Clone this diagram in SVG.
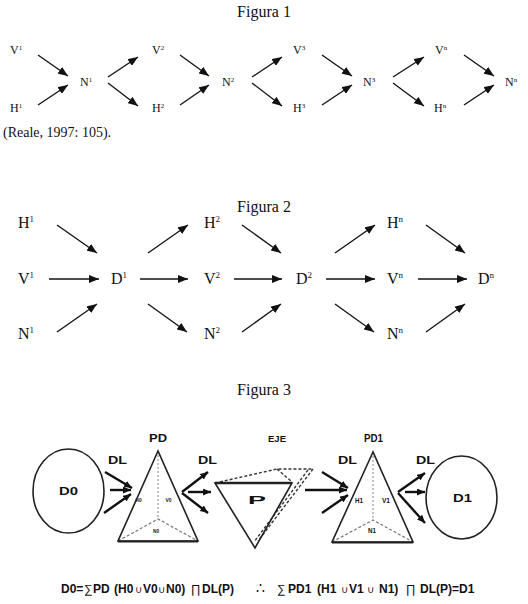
<svg xmlns="http://www.w3.org/2000/svg" width="528" height="604" viewBox="0 0 528 604">
<style>
.ser{font-family:"Liberation Serif","Times New Roman",serif;fill:#111}
.t{font-size:16px}
.l1{font-size:12px}
.l2{font-size:16px}
.sans{font-family:"Liberation Sans",Arial,sans-serif;font-weight:bold;fill:#111}
.a{stroke:#111;stroke-width:1.3;fill:none}
.a3{stroke:#111;stroke-width:2.4;fill:none}
.sh{stroke:#222;stroke-width:1.6;fill:none}
.dash{stroke:#777;stroke-width:1.2;fill:none;stroke-dasharray:3 2}
.dot{stroke:#999;stroke-width:1.2;fill:none;stroke-dasharray:2 2}
.dk{stroke:#333;stroke-width:1.4;fill:none;stroke-dasharray:3 2}
.op{font-weight:normal}
.cu{font-weight:normal;font-size:10px}
</style>
<defs>
<marker id="ah" viewBox="0 0 10 8" refX="10" refY="4" markerWidth="10" markerHeight="8" markerUnits="userSpaceOnUse" orient="auto"><path d="M0,0 L10,4 L0,8 z" fill="#111"/></marker>
<marker id="ah3" viewBox="0 0 8 7" refX="8" refY="3.5" markerWidth="8" markerHeight="7" markerUnits="userSpaceOnUse" orient="auto"><path d="M0,0 L8,3.5 L0,7 z" fill="#111"/></marker>
</defs>

<!-- Figura 1 -->
<text class="ser t" x="264" y="17" text-anchor="middle">Figura 1</text>
<g id="fig1-nodes" class="ser l1">
<g id="f1-V1"><text x="10" y="54">V<tspan font-size="7" dy="-4">1</tspan></text></g>
<g id="f1-H1"><text x="10" y="112">H<tspan font-size="7" dy="-4">1</tspan></text></g>
<g id="f1-N1"><text x="80" y="86">N<tspan font-size="7" dy="-4">1</tspan></text></g>
<g id="f1-V2"><text x="152" y="54">V<tspan font-size="7" dy="-4">2</tspan></text></g>
<g id="f1-H2"><text x="152" y="112">H<tspan font-size="7" dy="-4">2</tspan></text></g>
<g id="f1-N2"><text x="222" y="86">N<tspan font-size="7" dy="-4">2</tspan></text></g>
<g id="f1-V3"><text x="293" y="54">V<tspan font-size="7" dy="-4">3</tspan></text></g>
<g id="f1-H3"><text x="293" y="112">H<tspan font-size="7" dy="-4">3</tspan></text></g>
<g id="f1-N3"><text x="363" y="86">N<tspan font-size="7" dy="-4">3</tspan></text></g>
<g id="f1-Vn"><text x="435" y="54">V<tspan font-size="7" dy="-4">n</tspan></text></g>
<g id="f1-Hn"><text x="434" y="112">H<tspan font-size="7" dy="-4">n</tspan></text></g>
<g id="f1-Nn"><text x="505" y="86">N<tspan font-size="7" dy="-4">n</tspan></text></g>
</g>
<g id="fig1-connectors" class="a">
<line x1="38" y1="55" x2="68" y2="76" marker-end="url(#ah)"/>
<line x1="38" y1="105" x2="68" y2="85" marker-end="url(#ah)"/>
<line x1="108" y1="77" x2="138" y2="57" marker-end="url(#ah)"/>
<line x1="108" y1="83" x2="138" y2="106" marker-end="url(#ah)"/>
<line x1="180" y1="55" x2="209" y2="76" marker-end="url(#ah)"/>
<line x1="180" y1="105" x2="209" y2="85" marker-end="url(#ah)"/>
<line x1="252" y1="77" x2="282" y2="57" marker-end="url(#ah)"/>
<line x1="252" y1="83" x2="282" y2="106" marker-end="url(#ah)"/>
<line x1="322" y1="55" x2="352" y2="76" marker-end="url(#ah)"/>
<line x1="322" y1="105" x2="352" y2="85" marker-end="url(#ah)"/>
<line x1="393" y1="77" x2="424" y2="57" marker-end="url(#ah)"/>
<line x1="393" y1="83" x2="424" y2="106" marker-end="url(#ah)"/>
<line x1="464" y1="55" x2="494" y2="76" marker-end="url(#ah)"/>
<line x1="464" y1="105" x2="494" y2="85" marker-end="url(#ah)"/>
</g>
<text class="ser" font-size="14" x="3" y="137">(Reale, 1997: 105).</text>

<!-- Figura 2 -->
<text class="ser t" x="264" y="212" text-anchor="middle">Figura 2</text>
<g id="fig2-nodes" class="ser l2">
<g id="f2-H1"><text x="18" y="228">H<tspan font-size="9" dy="-6">1</tspan></text></g>
<g id="f2-V1"><text x="18" y="284">V<tspan font-size="9" dy="-6">1</tspan></text></g>
<g id="f2-N1"><text x="18" y="339">N<tspan font-size="9" dy="-6">1</tspan></text></g>
<g id="f2-D1"><text x="111" y="284">D<tspan font-size="9" dy="-6">1</tspan></text></g>
<g id="f2-H2"><text x="204" y="228">H<tspan font-size="9" dy="-6">2</tspan></text></g>
<g id="f2-V2"><text x="204" y="284">V<tspan font-size="9" dy="-6">2</tspan></text></g>
<g id="f2-N2"><text x="204" y="339">N<tspan font-size="9" dy="-6">2</tspan></text></g>
<g id="f2-D2"><text x="296" y="284">D<tspan font-size="9" dy="-6">2</tspan></text></g>
<g id="f2-Hn"><text x="387" y="228">H<tspan font-size="9" dy="-6">n</tspan></text></g>
<g id="f2-Vn"><text x="387" y="284">V<tspan font-size="9" dy="-6">n</tspan></text></g>
<g id="f2-Nn"><text x="387" y="339">N<tspan font-size="9" dy="-6">n</tspan></text></g>
<g id="f2-Dn"><text x="478" y="284">D<tspan font-size="9" dy="-6">n</tspan></text></g>
</g>
<g id="fig2-connectors" class="a">
<line x1="57" y1="225" x2="97" y2="253" marker-end="url(#ah)"/>
<line x1="49" y1="279" x2="99" y2="279" marker-end="url(#ah)"/>
<line x1="57" y1="332" x2="97" y2="304" marker-end="url(#ah)"/>
<line x1="148" y1="253" x2="188" y2="225" marker-end="url(#ah)"/>
<line x1="140" y1="279" x2="188" y2="279" marker-end="url(#ah)"/>
<line x1="148" y1="304" x2="187" y2="332" marker-end="url(#ah)"/>
<line x1="242" y1="225" x2="281" y2="253" marker-end="url(#ah)"/>
<line x1="234" y1="279" x2="282" y2="279" marker-end="url(#ah)"/>
<line x1="242" y1="332" x2="281" y2="304" marker-end="url(#ah)"/>
<line x1="335" y1="253" x2="375" y2="225" marker-end="url(#ah)"/>
<line x1="326" y1="279" x2="375" y2="279" marker-end="url(#ah)"/>
<line x1="335" y1="304" x2="374" y2="332" marker-end="url(#ah)"/>
<line x1="426" y1="225" x2="465" y2="253" marker-end="url(#ah)"/>
<line x1="418" y1="279" x2="467" y2="279" marker-end="url(#ah)"/>
<line x1="426" y1="332" x2="465" y2="304" marker-end="url(#ah)"/>
</g>

<!-- Figura 3 -->
<text class="ser t" x="264" y="395" text-anchor="middle">Figura 3</text>
<g id="D0">
<ellipse class="sh" cx="68.5" cy="491" rx="35.5" ry="42"/>
<text class="sans" font-size="10" x="59" y="495" textLength="19" lengthAdjust="spacingAndGlyphs">D0</text>
</g>
<g id="PD">
<path class="dot" d="M158,451 L158,519"/>
<path class="dash" d="M118,541 L158,519 L198,541"/>
<path class="sh" d="M158,451 L118,541 L198,541 Z"/>
<line x1="118" y1="541.5" x2="198" y2="541.5" stroke="#222" stroke-width="2.2"/>
<text class="sans" font-size="10.5" x="149" y="442" textLength="18" lengthAdjust="spacingAndGlyphs">PD</text>
<text class="sans" font-size="5.5" x="135.5" y="502" textLength="6" lengthAdjust="spacingAndGlyphs">H0</text>
<text class="sans" font-size="5.5" x="165.5" y="502" textLength="6" lengthAdjust="spacingAndGlyphs">V0</text>
<text class="sans" font-size="5.5" x="153" y="533" textLength="6" lengthAdjust="spacingAndGlyphs">N0</text>
</g>
<g id="P">
<path class="dk" d="M215,483 L277,469 L313,469 M277,469 L292,482 M313,469 L258,541 M308,470 L254,542"/>
<path class="sh" d="M215,483 L292,483 L255,548 Z"/>
<line x1="215" y1="483" x2="292" y2="483" stroke="#222" stroke-width="2.4"/>
<text class="sans" font-size="11" x="248" y="504" textLength="18" lengthAdjust="spacingAndGlyphs">P</text>
</g>
<g id="EJE">
<text class="sans" font-size="9.5" x="268" y="442" textLength="18" lengthAdjust="spacingAndGlyphs">EJE</text>
</g>
<g id="PD1">
<path class="dot" d="M373,452 L373,520"/>
<path class="dash" d="M332,542 L373,520 L413,542"/>
<path class="sh" d="M373,452 L332,542 L413,542 Z"/>
<line x1="332" y1="542.5" x2="413" y2="542.5" stroke="#222" stroke-width="2.2"/>
<text class="sans" font-size="10" x="364" y="442" textLength="19" lengthAdjust="spacingAndGlyphs">PD1</text>
<text class="sans" font-size="6.5" x="355" y="503" textLength="8" lengthAdjust="spacingAndGlyphs">H1</text>
<text class="sans" font-size="6.5" x="382" y="503" textLength="8" lengthAdjust="spacingAndGlyphs">V1</text>
<text class="sans" font-size="6.5" x="368" y="533" textLength="8" lengthAdjust="spacingAndGlyphs">N1</text>
</g>
<g id="D1">
<ellipse class="sh" cx="461.5" cy="497.5" rx="35.5" ry="41.5"/>
<text class="sans" font-size="10" x="453" y="502" textLength="19" lengthAdjust="spacingAndGlyphs">D1</text>
</g>
<g id="DL-labels">
<text class="sans" font-size="10.5" x="108" y="464" textLength="19" lengthAdjust="spacingAndGlyphs">DL</text>
<text class="sans" font-size="10.5" x="198" y="464" textLength="19" lengthAdjust="spacingAndGlyphs">DL</text>
<text class="sans" font-size="10.5" x="338" y="464" textLength="19" lengthAdjust="spacingAndGlyphs">DL</text>
<text class="sans" font-size="10.5" x="416" y="464" textLength="19" lengthAdjust="spacingAndGlyphs">DL</text>
</g>
<g id="fig3-connectors" class="a3">
<line x1="105" y1="472" x2="132" y2="488" marker-end="url(#ah3)"/>
<line x1="110" y1="490" x2="131" y2="490" marker-end="url(#ah3)"/>
<line x1="104" y1="513" x2="131" y2="494" marker-end="url(#ah3)"/>
<line x1="182" y1="492" x2="208" y2="472" marker-end="url(#ah3)"/>
<line x1="188" y1="492" x2="211" y2="492" marker-end="url(#ah3)"/>
<line x1="182" y1="493" x2="208" y2="513" marker-end="url(#ah3)"/>
<line x1="322" y1="472" x2="348" y2="488" marker-end="url(#ah3)"/>
<line x1="305" y1="490" x2="347" y2="490" marker-end="url(#ah3)"/>
<line x1="322" y1="513" x2="348" y2="495" marker-end="url(#ah3)"/>
<line x1="398" y1="492" x2="425" y2="473" marker-end="url(#ah3)"/>
<line x1="405" y1="492" x2="425" y2="492" marker-end="url(#ah3)"/>
<line x1="398" y1="493" x2="425" y2="523" marker-end="url(#ah3)"/>
</g>
<g id="equation" font-family="Liberation Sans, Arial, sans-serif" font-size="12" fill="#111">
<text y="593" font-weight="bold"><tspan x="61">D0=</tspan><tspan x="84" class="op">∑</tspan><tspan x="93">PD</tspan><tspan x="114">(H0</tspan><tspan x="135" class="cu">∪</tspan><tspan x="143">V0</tspan><tspan x="158" class="cu">∪</tspan><tspan x="166">N0)</tspan><tspan x="191" class="op">∏</tspan><tspan x="202">DL(P)</tspan><tspan x="256" class="op" font-size="14">∴</tspan><tspan x="277" class="op">∑</tspan><tspan x="288">PD1</tspan><tspan x="317">(H1</tspan><tspan x="341" class="cu">∪</tspan><tspan x="349">V1</tspan><tspan x="367" class="cu">∪</tspan><tspan x="379">N1)</tspan><tspan x="406" class="op">∏</tspan><tspan x="420">DL(P)=D1</tspan></text>
</g>
</svg>
